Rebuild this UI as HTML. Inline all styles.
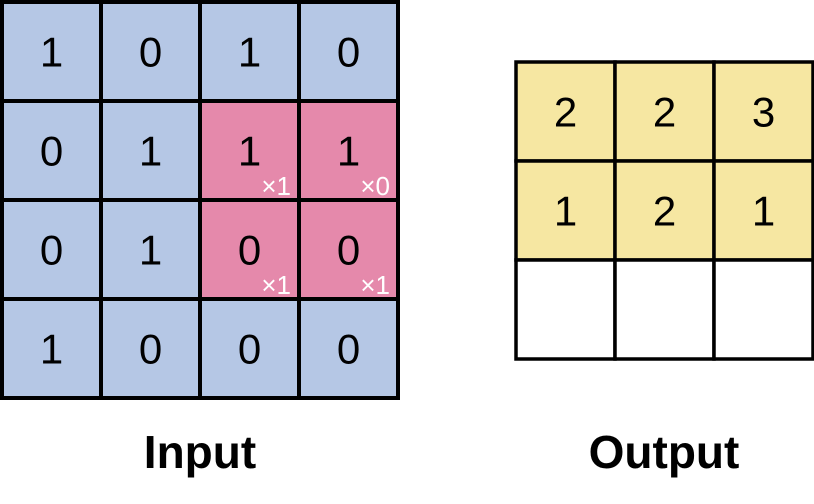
<!DOCTYPE html>
<html><head><meta charset="utf-8"><style>
body{margin:0;background:#fff;width:814px;height:504px;overflow:hidden}
svg{display:block}
text{font-family:"Liberation Sans",Arial,sans-serif}
</style></head><body>
<svg id="c" width="814" height="504"></svg>
<script>
const inputValues=[[1,0,1,0],[0,1,1,1],[0,1,0,0],[1,0,0,0]];
const kernelWeights=[[1,0],[1,1]];
const kernelRow=1, kernelCol=2;
const outputValues=[[2,2,3],[1,2,1],[null,null,null]];
const NS="http://www.w3.org/2000/svg";
const svg=document.getElementById('c');
function mk(tag,attrs,parent){const e=document.createElementNS(NS,tag);for(const k in attrs)e.setAttribute(k,attrs[k]);(parent||svg).appendChild(e);return e;}
const inX0=2,inY0=2,inC=99;
const outX0=516,outY0=62,outC=99;
const ig=mk('g',{});


inputValues.forEach((row,r)=>row.forEach((v,c)=>{
  const inK=r>=kernelRow&&r<kernelRow+2&&c>=kernelCol&&c<kernelCol+2;
  const x=inX0+c*inC,y=inY0+r*inC;
  const cell=mk('rect',{x:x,y:y,width:inC,height:inC,fill:inK?'#e589ab':'#b5c7e5',stroke:'#000','stroke-width':4},ig);
  
  
  const t=mk('text',{x:x+inC/2,y:y+inC/2+15,'text-anchor':'middle','font-size':42,fill:'#000'},ig);
  t.textContent=v;
  
  
  if(inK){
    const w=kernelWeights[r-kernelRow][c-kernelCol];
    const k=mk('text',{x:x+inC-8,y:y+inC-5,'text-anchor':'end','font-size':26,fill:'#fff'},ig);
    k.textContent='×'+w;
    
    
  }
}));
const og=mk('g',{});


outputValues.forEach((row,r)=>row.forEach((v,c)=>{
  const x=outX0+c*outC,y=outY0+r*outC;
  const cell=mk('rect',{x:x,y:y,width:outC,height:outC,fill:v===null?'#fff':'#f6e7a2',stroke:'#000','stroke-width':3.5},og);
  
  
  if(v!==null){
    const t=mk('text',{x:x+outC/2,y:y+outC/2+15,'text-anchor':'middle','font-size':42,fill:'#000'},og);
    t.textContent=v;
    
    
  }
}));
const l1=mk('text',{x:200,y:468,'text-anchor':'middle','font-size':46,'font-weight':'bold',fill:'#000'});
l1.textContent='Input';


const l2=mk('text',{x:664,y:468,'text-anchor':'middle','font-size':46,'font-weight':'bold',fill:'#000'});
l2.textContent='Output';


</script>
</body></html>
